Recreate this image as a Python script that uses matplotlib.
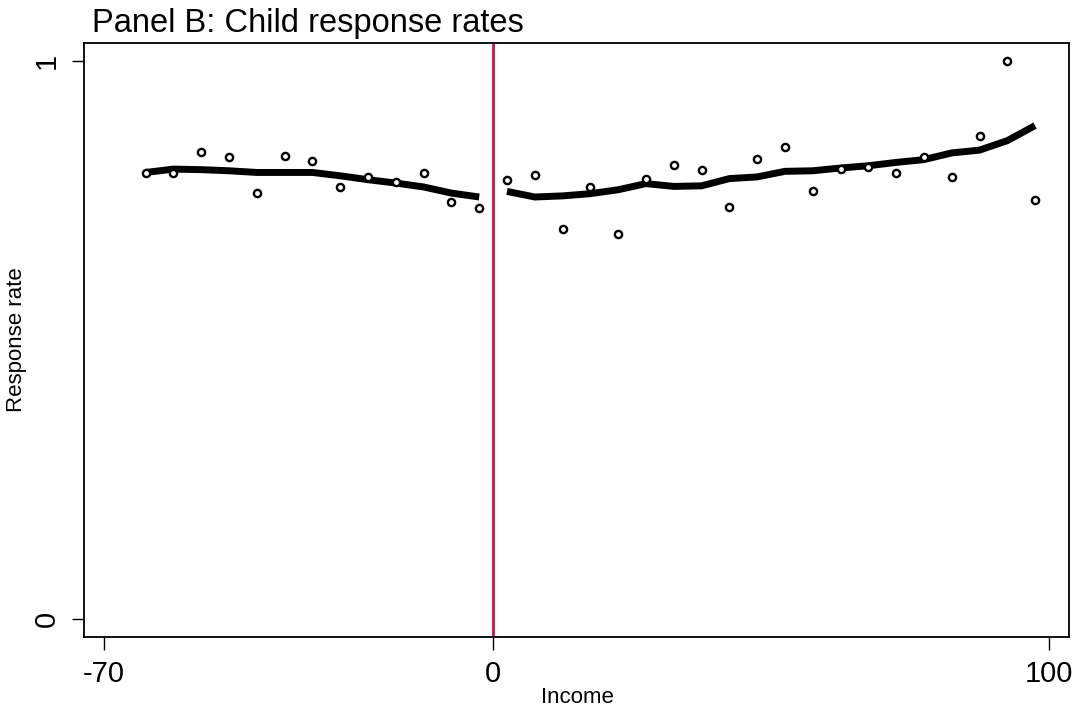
import numpy as np
import matplotlib.pyplot as plt

plt.rcParams['font.family'] = ['Liberation Sans', 'DejaVu Sans']

# binned means, left of cutoff
left_x = [-62.5, -57.5, -52.5, -47.5, -42.5, -37.5, -32.5, -27.5, -22.5, -17.5, -12.5, -7.5, -2.5]
left_pts = [0.799, 0.799, 0.836, 0.827, 0.763, 0.829, 0.821, 0.774, 0.791, 0.783, 0.799, 0.747, 0.737]
left_fit = [0.800, 0.806, 0.805, 0.803, 0.800, 0.800, 0.800, 0.794, 0.787, 0.781, 0.774, 0.763, 0.756]

# binned means, right of cutoff
right_x = [2.5, 7.5, 12.5, 17.5, 22.5, 27.5, 32.5, 37.5, 42.5, 47.5,
           52.5, 57.5, 62.5, 67.5, 72.5, 77.5, 82.5, 87.5, 92.5, 97.5]
right_pts = [0.787, 0.796, 0.698, 0.774, 0.690, 0.788, 0.814, 0.805, 0.738, 0.825,
             0.845, 0.766, 0.806, 0.809, 0.799, 0.827, 0.792, 0.866, 1.000, 0.750]
right_fit = [0.766, 0.756, 0.758, 0.762, 0.769, 0.780, 0.775, 0.776, 0.789, 0.792,
             0.802, 0.803, 0.808, 0.812, 0.818, 0.823, 0.835, 0.840, 0.857, 0.884]

x_ticks = [-70, 0, 100]
y_ticks = [0, 1]

W, H = 1081, 710
fig = plt.figure(figsize=(W/100, H/100), dpi=100)
ax = fig.add_axes([84/W, 1-636.7/H, (1069-84)/W, (636.7-43)/H])

mk = dict(marker='o', linestyle='none', markersize=5.2, markerfacecolor='white',
          markeredgecolor='black', markeredgewidth=1.7, zorder=3)
ax.plot(left_x, left_pts, **mk)
ax.plot(right_x, right_pts, **mk)
ax.plot(left_x, left_fit, color='black', linewidth=5, solid_capstyle='butt', zorder=2)
ax.plot(right_x, right_fit, color='black', linewidth=5, solid_capstyle='butt', zorder=2)
ax.axvline(0, color='#CC1144', linewidth=2, zorder=1)

ax.set_xlim(-73.6, 103.6)
ax.set_ylim(-0.032, 1.032)
ax.set_xticks(x_ticks)
ax.set_xticklabels([str(v) for v in x_ticks])
ax.set_yticks(y_ticks)
ax.set_yticklabels([str(v) for v in y_ticks], rotation=90, va='center')
ax.tick_params(direction='out', length=9, width=1, pad=8, labelsize=21, color='black')
for s in ax.spines.values():
    s.set_linewidth(1.3)
    s.set_color('black')

fig.text(577/W, 1-703/H, 'Income', fontsize=16, ha='center', va='baseline')
fig.text(17/W, 1-340/H, 'Response rate', fontsize=16, rotation=90,
         ha='center', va='center')
fig.text(92/W, 1-32/H, 'Panel B: Child response rates', fontsize=23.5,
         ha='left', va='baseline')

fig.savefig('out.png', dpi=100)
